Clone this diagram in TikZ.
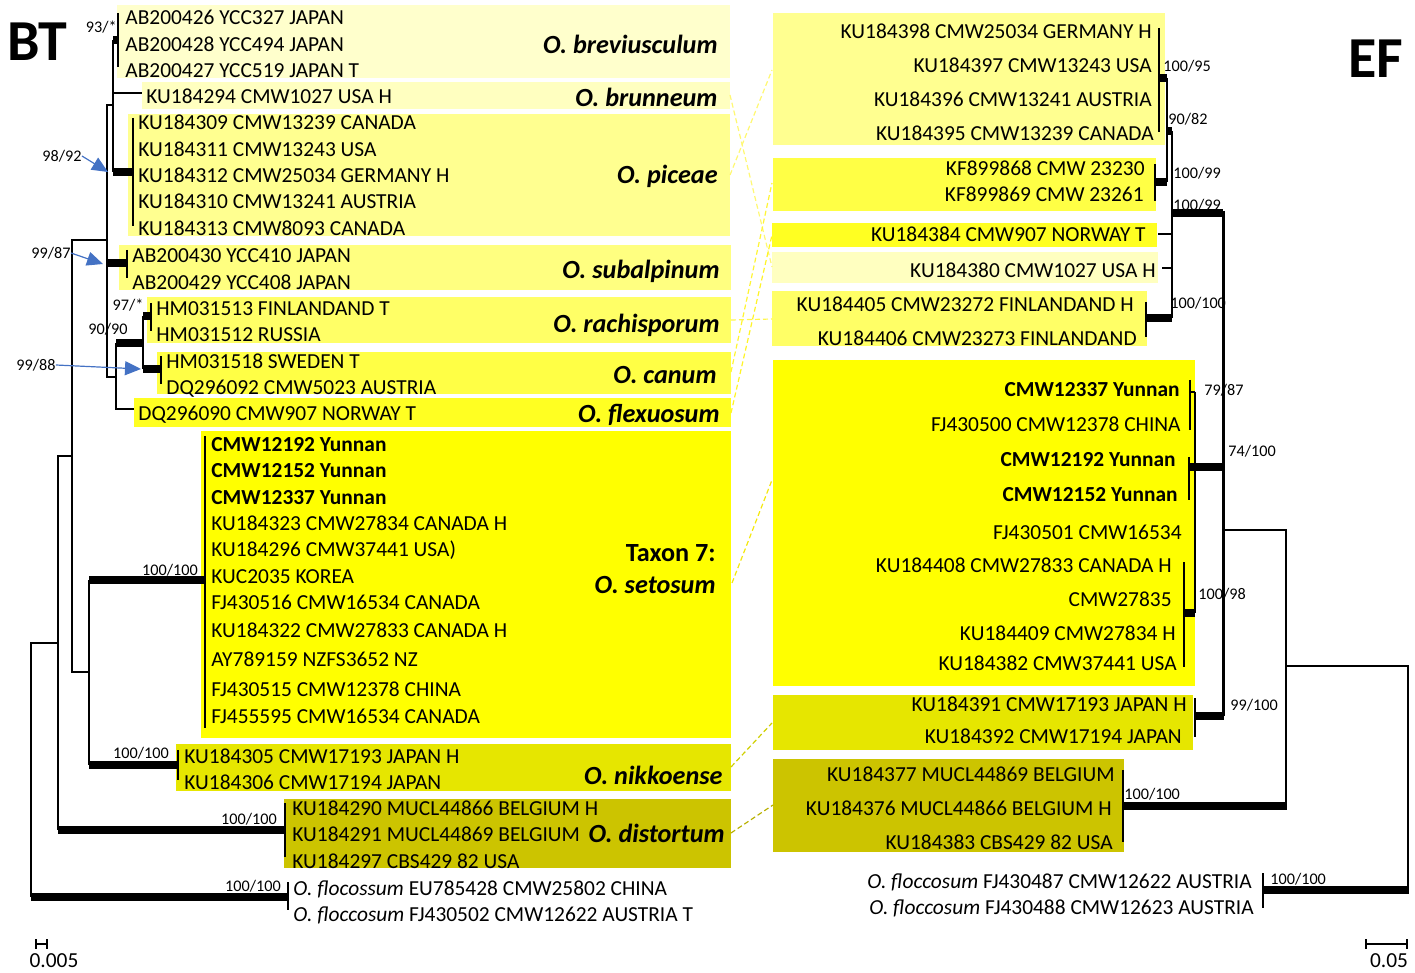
\documentclass[tikz,border=0pt]{standalone}
\usepackage{fontspec}
\setmainfont{Carlito}
\usetikzlibrary{arrows.meta}
\definecolor{cbrevi}{HTML}{FFFFCC}
\definecolor{cbrun}{HTML}{FFFFC0}
\definecolor{cpic}{HTML}{FFFF90}
\definecolor{csub}{HTML}{FFFF80}
\definecolor{crach}{HTML}{FFFF66}
\definecolor{ccan}{HTML}{FFFF45}
\definecolor{cflex}{HTML}{FFFF22}
\definecolor{cset}{HTML}{FFFF00}
\definecolor{cnik}{HTML}{E6E600}
\definecolor{cdist}{HTML}{CCC400}
\definecolor{arrowblue}{HTML}{4472C4}
\begin{document}
\begin{tikzpicture}[x=0.5pt,y=-0.5pt,
    tip/.style={inner sep=0pt,text height=6.9pt,text depth=0pt,font=\fontsize{10.7}{12}\selectfont},
    spec/.style={inner sep=0pt,anchor=east,text height=8.4pt,text depth=0pt,font=\fontsize{13.1}{15}\selectfont\bfseries\itshape},
    bs/.style={inner sep=0pt,text height=5.2pt,text depth=0pt,font=\fontsize{8.1}{9}\selectfont},
    br/.style={line width=1pt},
    tbr/.style={line width=3.7pt},
    tbar/.style={line width=1.4pt},
    link/.style={line width=0.6pt,dash pattern=on 2.5pt off 1.5pt},
    pointer/.style={arrowblue,line width=0.6pt,-{Triangle[length=8pt,width=7pt]}}]
\useasboundingbox (0,0) rectangle (1415,973);

% boxes, BT side
\fill[cbrevi] (117,5) rectangle (730,78);
\fill[cbrun] (142,82) rectangle (730,109);
\fill[cpic] (128,114) rectangle (730,236);
\fill[csub] (119,245) rectangle (731,290);
\fill[crach] (147,297) rectangle (731,343);
\fill[ccan] (157,352) rectangle (731,394);
\fill[cflex] (134,398) rectangle (731,427);
\fill[cset] (201,431) rectangle (731,738);
\fill[cnik] (176,744) rectangle (731,791);
\fill[cdist] (284,799) rectangle (731,868);
% boxes, EF side
\fill[cpic] (773,13) rectangle (1165,145);
\fill[ccan] (773,158) rectangle (1156,211);
\fill[cflex] (772,223) rectangle (1157,247);
\fill[cbrun] (772,252) rectangle (1158,283);
\fill[crach] (772,291) rectangle (1147,346);
\fill[cset] (773,360) rectangle (1195,686);
\fill[cnik] (773,695) rectangle (1193,750);
\fill[cdist] (773,759) rectangle (1124,852);

% link ends
\coordinate (brunL) at (730,95);   \coordinate (brunR) at (772,267);
\coordinate (picL) at (730,175);   \coordinate (picR) at (772,70);
\coordinate (rachL) at (731,320);  \coordinate (rachR) at (772,319);
\coordinate (canL) at (731,372);   \coordinate (canR) at (772,183);
\coordinate (flexL) at (731,413);  \coordinate (flexR) at (772,235);
\coordinate (setL) at (732,583);   \coordinate (setR) at (772,480);
\coordinate (nikL) at (731,767);   \coordinate (nikR) at (772,723);
\coordinate (distL) at (731,833);  \coordinate (distR) at (773,805);
\draw[link,yellow!55] (brunL) -- (brunR);
\draw[link,yellow!55] (picL) -- (picR);
\draw[link,yellow!70] (rachL) -- (rachR);
\draw[link,yellow!80] (canL) -- (canR);
\draw[link,yellow!85] (flexL) -- (flexR);
\draw[link,yellow!95!black] (setL) -- (setR);
\draw[link,cnik!90!black] (nikL) -- (nikR);
\draw[link,cdist!90!black] (distL) -- (distR);

\node[font=\fontsize{29}{32}\selectfont\bfseries,inner sep=0pt,text height=18.7pt,text depth=0pt] (bt) at (37,42) {BT};
\node[font=\fontsize{29}{32}\selectfont\bfseries,inner sep=0pt,text height=18.7pt,text depth=0pt] (ef) at (1376,59) {EF};

% BT tips
\foreach \y/\t [count=\i] in {18/AB200426 YCC327 JAPAN,45/AB200428 YCC494 JAPAN,71/AB200427 YCC519 JAPAN T}
    \node[tip,anchor=west] (brevi\i) at (125,\y) {\t};
\node[tip,anchor=west] (brun1) at (146,97) {KU184294 CMW1027 USA H};
\foreach \y/\t [count=\i] in {123/KU184309 CMW13239 CANADA,150/KU184311 CMW13243 USA,176/KU184312 CMW25034 GERMANY H,202/KU184310 CMW13241 AUSTRIA,229/KU184313 CMW8093 CANADA}
    \node[tip,anchor=west] (pic\i) at (138,\y) {\t};
\node[tip,anchor=west] (sub1) at (132,256) {AB200430 YCC410 JAPAN};
\node[tip,anchor=west] (sub2) at (132,283) {AB200429 YCC408 JAPAN};
\node[tip,anchor=west] (rach1) at (156,309) {HM031513 FINLANDAND T};
\node[tip,anchor=west] (rach2) at (156,335) {HM031512 RUSSIA};
\node[tip,anchor=west] (can1) at (166,362) {HM031518 SWEDEN T};
\node[tip,anchor=west] (can2) at (166,388) {DQ296092 CMW5023 AUSTRIA};
\node[tip,anchor=west] (flex1) at (138,414) {DQ296090 CMW907 NORWAY T};
\foreach \y/\t [count=\i] in {445/\textbf{CMW12192 Yunnan},471/\textbf{CMW12152 Yunnan},498/\textbf{CMW12337 Yunnan},
    524/KU184323 CMW27834 CANADA H,550/KU184296 CMW37441 USA),577/KUC2035 KOREA,603/FJ430516 CMW16534 CANADA,
    631/KU184322 CMW27833 CANADA H,660/AY789159 NZFS3652 NZ,690/FJ430515 CMW12378 CHINA,717/FJ455595 CMW16534 CANADA}
    \node[tip,anchor=west] (set\i) at (211,\y) {\t};
\node[tip,anchor=west] (nik1) at (184,757) {KU184305 CMW17193 JAPAN H};
\node[tip,anchor=west] (nik2) at (184,783) {KU184306 CMW17194 JAPAN};
\node[tip,anchor=west] (dist1) at (292,809) {KU184290 MUCL44866 BELGIUM H};
\node[tip,anchor=west] (dist2) at (292,835) {KU184291 MUCL44869 BELGIUM};
\node[tip,anchor=west] (dist3) at (292,862) {KU184297 CBS429 82 USA};
\node[tip,anchor=west] (floc1) at (293,889) {\textit{O. flocossum} EU785428 CMW25802 CHINA};
\node[tip,anchor=west] (floc2) at (293,915) {\textit{O. floccosum} FJ430502 CMW12622 AUSTRIA T};

% species names
\node[spec] (nbrevi) at (718,45) {O. breviusculum};
\node[spec] (nbrun) at (718,98) {O. brunneum};
\node[spec] (npic) at (718,175) {O. piceae};
\node[spec] (nsub) at (720,270) {O. subalpinum};
\node[spec] (nrach) at (720,324) {O. rachisporum};
\node[spec] (ncan) at (717,375) {O. canum};
\node[spec] (nflex) at (720,414) {O. flexuosum};
\node[spec,font=\fontsize{13.1}{15}\selectfont\bfseries] (ntaxon) at (716,553) {Taxon 7:};
\node[spec] (nset) at (716,585) {O. setosum};
\node[spec] (nnik) at (723,776) {O. nikkoense};
\node[spec] (ndist) at (725,834) {O. distortum};

% BT tree
\draw[br] (113,40) -- (113,172) ;
\draw[tbr] (113,40) -- (118,40) ;
\draw[tbar] (118,13) -- (118,67) ;
\draw[br] (113,93) -- (142,93) ;
\draw[tbr] (113,172) -- (133,172) ;
\draw[tbar] (133,118) -- (133,226) ;
\draw[br] (113,105) -- (107,105) -- (107,377) -- (116,377) ;
\draw[tbr] (107,263) -- (127,263) ;
\draw[tbar] (127,250) -- (127,278) ;
\draw[br] (134,409) -- (116,409) -- (116,343) ;
\draw[tbr] (116,343) -- (143,343) ;
\draw[br] (143,316) -- (143,369) ;
\draw[tbr] (143,316) -- (151,316) ;
\draw[tbar] (151,303) -- (151,331) ;
\draw[tbr] (143,369) -- (161,369) ;
\draw[tbar] (161,356) -- (161,384) ;
\draw[br] (107,240) -- (72,240) -- (72,672) -- (89,672) ;
\draw[br] (89,580) -- (89,765) ;
\draw[tbr] (89,580) -- (205,580) ;
\draw[tbar] (205,436) -- (205,728) ;
\draw[tbr] (89,765) -- (178,765) ;
\draw[tbar] (178,750) -- (178,780) ;
\draw[br] (72,456) -- (58,456) -- (58,830) ;
\draw[tbr] (58,830) -- (285,830) ;
\draw[tbar] (285,803) -- (285,857) ;
\draw[br] (58,643) -- (31,643) -- (31,897) ;
\draw[tbr] (31,897) -- (288,897) ;
\draw[tbar] (288,882) -- (288,910) ;

% BT support
\node[bs,anchor=east] (s1) at (117,27) {93/*};
\node[bs] (s2) at (62,156) {98/92};
\node[bs] (s3) at (51,253) {99/87};
\node[bs] (s4) at (128,305) {97/*};
\node[bs] (s5) at (108,329) {90/90};
\node[bs] (s6) at (36,365) {99/88};
\node[bs] (s7) at (170,570) {100/100};
\node[bs] (s8) at (141,753) {100/100};
\node[bs] (s9) at (249,819) {100/100};
\node[bs] (s10) at (253,886) {100/100};
\draw[pointer] (s2.east) -- (108,172) ;
\draw[pointer] (s3.east) -- (103,264) ;
\draw[pointer] (s6.east) -- (141,369) ;

% EF tips
\foreach \y/\t [count=\i] in {32/KU184398 CMW25034 GERMANY H,66/KU184397 CMW13243 USA,100/KU184396 CMW13241 AUSTRIA}
    \node[tip,anchor=east] (epic\i) at (1152,\y) {\t};
\node[tip,anchor=east] (epic4) at (1154,134) {KU184395 CMW13239 CANADA};
\node[tip,anchor=east] (ecan1) at (1145,169) {KF899868 CMW 23230};
\node[tip,anchor=east] (ecan2) at (1144,195) {KF899869 CMW 23261};
\node[tip,anchor=east] (eflex1) at (1146,235) {KU184384 CMW907 NORWAY T};
\node[tip,anchor=east] (ebrun1) at (1156,271) {KU184380 CMW1027 USA H};
\node[tip,anchor=east] (erach1) at (1134,305) {KU184405 CMW23272 FINLANDAND H};
\node[tip,anchor=east] (erach2) at (1137,339) {KU184406 CMW23273 FINLANDAND};
\foreach \y/\x/\t [count=\i] in {390/1180/\textbf{CMW12337 Yunnan},425/1181/FJ430500 CMW12378 CHINA,460/1176/\textbf{CMW12192 Yunnan},
    495/1178/\textbf{CMW12152 Yunnan},533/1182/FJ430501 CMW16534,566/1172/KU184408 CMW27833 CANADA H,600/1172/CMW27835,
    634/1176/KU184409 CMW27834 H,664/1177/KU184382 CMW37441 USA}
    \node[tip,anchor=east] (eset\i) at (\x,\y) {\t};
\node[tip,anchor=east] (enik1) at (1187,705) {KU184391 CMW17193 JAPAN H};
\node[tip,anchor=east] (enik2) at (1182,737) {KU184392 CMW17194 JAPAN};
\node[tip,anchor=east] (edist1) at (1115,775) {KU184377 MUCL44869 BELGIUM};
\node[tip,anchor=east] (edist2) at (1112,809) {KU184376 MUCL44866 BELGIUM H};
\node[tip,anchor=east] (edist3) at (1113,843) {KU184383 CBS429 82 USA};
\node[tip,anchor=east] (efloc1) at (1252,882) {\textit{O. floccosum} FJ430487 CMW12622 AUSTRIA};
\node[tip,anchor=east] (efloc2) at (1254,908) {\textit{O. floccosum} FJ430488 CMW12623 AUSTRIA};

% EF tree
\draw[tbar] (1159,28) -- (1159,132) ;
\draw[tbr] (1159,78) -- (1167,78) ;
\draw[br] (1167,78) -- (1167,182) ;
\draw[tbar] (1155,164) -- (1155,201) ;
\draw[tbr] (1155,182) -- (1167,182) ;
\draw[tbr] (1167,131) -- (1172,131) ;
\draw[br] (1172,131) -- (1172,318) ;
\draw[br] (1158,234) -- (1172,234) ;
\draw[br] (1162,268) -- (1172,268) ;
\draw[tbar] (1146,302) -- (1146,337) ;
\draw[tbr] (1146,318) -- (1172,318) ;
\draw[tbr] (1172,213) -- (1223,213) ;
\draw[line width=1.5pt] (1223,211) -- (1223,716) ;
\draw[tbar] (1190,380) -- (1190,430) ;
\draw[br] (1190,392) -- (1195,392) ;
\draw[tbar] (1189,457) -- (1189,500) ;
\draw[br] (1195,392) -- (1195,613) ;
\draw[tbr] (1189,467) -- (1223,467) ;
\draw[tbar] (1184,562) -- (1184,667) ;
\draw[tbr] (1184,613) -- (1195,613) ;
\draw[tbar] (1195,698) -- (1195,737) ;
\draw[tbr] (1195,716) -- (1224,716) ;
\draw[br] (1223,530) -- (1286,530) -- (1286,806) ;
\draw[tbar] (1123,770) -- (1123,842) ;
\draw[tbr] (1123,806) -- (1287,806) ;
\draw[br] (1286,666) -- (1408,666) -- (1408,890) ;
\draw[tbar] (1263,873) -- (1263,908) ;
\draw[tbr] (1263,890) -- (1409,890) ;

% EF support
\node[bs,anchor=west] (e1) at (1163,66) {100/95};
\node[bs,anchor=west] (e2) at (1168,119) {90/82};
\node[bs,anchor=west] (e3) at (1173,173) {100/99};
\node[bs,anchor=west] (e4) at (1173,205) {100/99};
\node[bs,anchor=west] (e5) at (1170,303) {100/100};
\node[bs,anchor=west] (e6) at (1204,390) {79/87};
\node[bs,anchor=west] (e7) at (1228,451) {74/100};
\node[bs,anchor=west] (e8) at (1198,594) {100/98};
\node[bs,anchor=west] (e9) at (1230,705) {99/100};
\node[bs,anchor=west] (e10) at (1124,794) {100/100};
\node[bs,anchor=west] (e11) at (1270,879) {100/100};

% scale bars
\draw[line width=1.2pt] (36,939) -- (36,949) (36,944) -- (47,944) (47,939) -- (47,949) ;
\node[tip] (sc1) at (54,961) {0.005};
\draw[line width=1.2pt] (1366,939) -- (1366,949) (1366,944) -- (1407,944) (1407,939) -- (1407,949) ;
\node[tip] (sc2) at (1389,961) {0.05};
\end{tikzpicture}
\end{document}
